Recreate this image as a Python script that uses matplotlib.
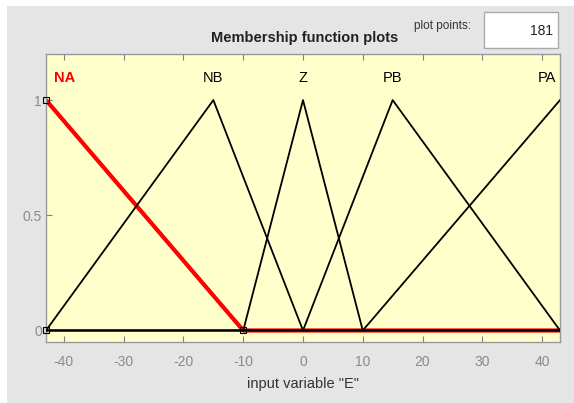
import matplotlib
matplotlib.use("Agg")
import matplotlib.pyplot as plt
from matplotlib.patches import Rectangle

# ---- data ----
x_range = [-43, 43]
mf_names = ["NA", "NB", "Z", "PB", "PA"]
# triangular parameters [a, b(peak), c]
mf_a = [-43, -43, -10, 0, 10]
mf_b = [-43, -15, 0, 15, 43]
mf_c = [-10, 0, 10, 43, 43]
selected = "NA"
x_ticks = [-40, -30, -20, -10, 0, 10, 20, 30, 40]
y_ticks = [0, 0.5, 1]
y_tick_labels = ["0", "0.5", "1"]
plot_points = "181"

plt.rcParams['font.family'] = ['Liberation Sans', 'DejaVu Sans']

W, H = 574, 403
fig = plt.figure(figsize=(W / 100, H / 100), dpi=100, facecolor="white")
# gray panel
fig.patches.append(Rectangle((7 / W, 0), 1 - 7 / W, 1 - 6 / H, transform=fig.transFigure,
                             facecolor="#e5e5e5", edgecolor="none", zorder=-10))

ax = fig.add_axes([46 / W, 1 - 342 / H, (560 - 46) / W, (342 - 54) / H])
ax.set_facecolor("#ffffcc")
ax.set_xlim(x_range)
ax.set_ylim(-0.05, 1.2)


def vertices(a, b, c):
    lo, hi = x_range
    xs, ys = [], []
    if a < b:
        if a > lo:
            xs.append(lo); ys.append(0)
        xs.append(a); ys.append(0)
    xs.append(b); ys.append(1)
    if b < c:
        xs.append(c); ys.append(0)
        if c < hi:
            xs.append(hi); ys.append(0)
    return xs, ys


for name, a, b, c in zip(mf_names, mf_a, mf_b, mf_c):
    xs, ys = vertices(a, b, c)
    if name == selected:
        ax.plot(xs, ys, color="#ff0000", lw=3.0, zorder=2, solid_capstyle="butt")
        ax.plot([a, b, c], [0, 1, 0], ls="none", marker="s", ms=4.5, mfc="none",
                mec="black", mew=0.8, zorder=4, clip_on=False)
    else:
        ax.plot(xs, ys, color="black", lw=1.3, zorder=3)

# labels
for name, b in zip(mf_names, mf_b):
    col = "#ff0000" if name == selected else "black"
    weight = "bold" if name == selected else "normal"
    ha = "center"
    xpos = b
    if b <= x_range[0]:
        ha, xpos = "left", x_range[0] + 1.3
    elif b >= x_range[1]:
        ha, xpos = "right", x_range[1] - 0.6
    ax.text(xpos, 1.097, name, color=col, ha=ha, va="center", fontsize=10.5,
            fontweight=weight, zorder=5)

ax.set_xticks(x_ticks)
ax.set_xticklabels([str(t) for t in x_ticks])
ax.set_yticks(y_ticks)
ax.set_yticklabels(y_tick_labels)
ax.tick_params(axis="both", direction="in", colors="#808080", labelcolor="#8a8a8a",
               labelsize=10, length=4, width=0.8, top=True, right=False)
ax.tick_params(axis="x", pad=9)
ax.tick_params(axis="y", pad=3)
for s in ax.spines.values():
    s.set_color("#999999")
    s.set_linewidth(1.0)

ax.set_xlabel('input variable "E"', fontsize=10.5, color="#333333", labelpad=6)

fig.text(305 / W, 1 - 38 / H, "Membership function plots", ha="center", va="center",
         fontsize=10.5, fontweight="bold", color="#222222")
fig.text(442 / W, 1 - 26 / H, "plot points:", ha="center", va="center",
         fontsize=8.5, color="#333333")
fig.patches.append(Rectangle((484 / W, 1 - 48 / H), (558 - 484) / W, 36 / H,
                             transform=fig.transFigure, facecolor="white",
                             edgecolor="#aaaaaa", lw=1.0, zorder=1))
fig.text(553 / W, 1 - 31 / H, plot_points, ha="right", va="center", fontsize=10,
         color="#222222")

fig.savefig("out.png", dpi=100, facecolor=fig.get_facecolor())
